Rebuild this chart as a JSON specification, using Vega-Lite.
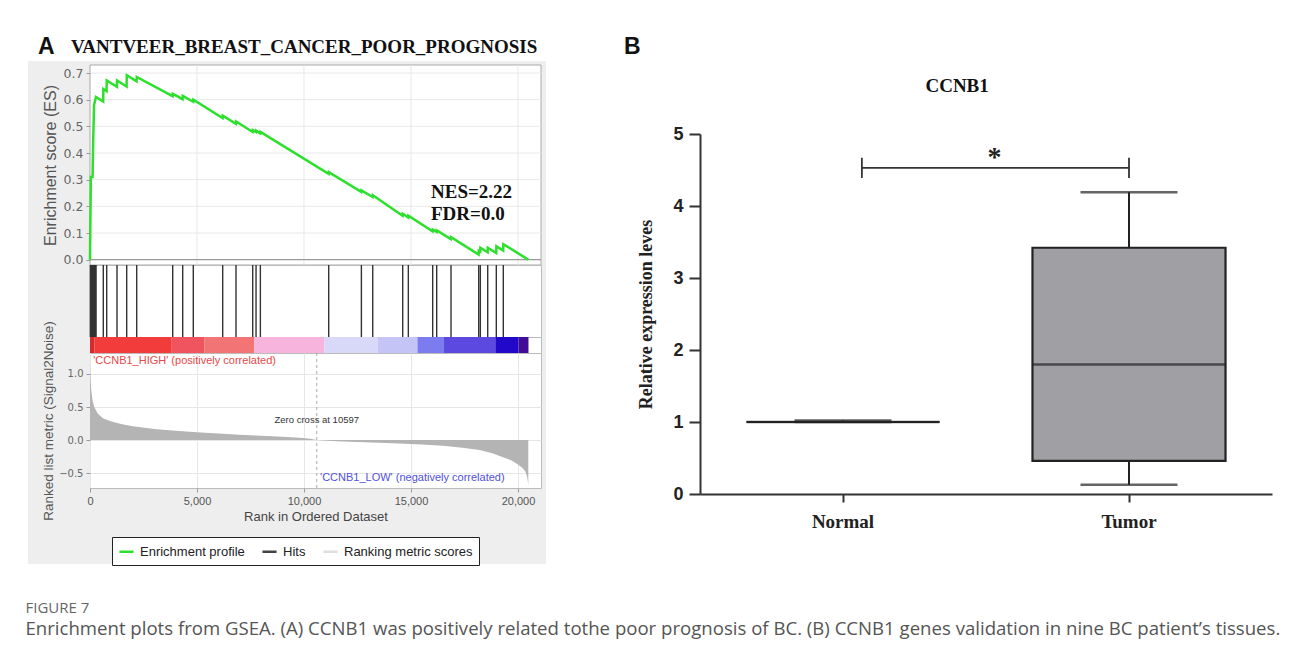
{
  "$schema": "https://vega.github.io/schema/vega-lite/v6.json",
  "background": "white",
  "padding": {"left": 25, "top": 35, "right": 8, "bottom": 8},
  "config": {
    "font": "Liberation Sans",
    "view": {"stroke": null},
    "axis": {"labelFont": "Liberation Sans", "titleFont": "Liberation Sans", "labelFlush": false, "labelOverlap": false}
  },
  "title": {
    "text": "FIGURE 7",
    "subtitle": "Enrichment plots from GSEA. (A) CCNB1 was positively related tothe poor prognosis of BC. (B) CCNB1 genes validation in nine BC patient’s tissues.",
    "orient": "bottom",
    "anchor": "start",
    "frame": "bounds",
    "dx": -2,
    "offset": 35,
    "font": "Open Sans",
    "fontSize": 15,
    "fontWeight": "normal",
    "color": "#666666",
    "subtitleFont": "Open Sans",
    "subtitleFontSize": 18.6,
    "subtitleColor": "#555555",
    "subtitlePadding": 4
  },
  "datasets": {
    "es": [
      {"rank": 0, "es": 0}, {"rank": 40, "es": 0.31}, {"rank": 120, "es": 0.31}, {"rank": 150, "es": 0.45},
      {"rank": 190, "es": 0.58}, {"rank": 280, "es": 0.61},
      {"rank": 616, "es": 0.593}, {"rank": 624, "es": 0.64},
      {"rank": 775, "es": 0.632}, {"rank": 783, "es": 0.672},
      {"rank": 1257, "es": 0.648}, {"rank": 1265, "es": 0.672},
      {"rank": 1710, "es": 0.649}, {"rank": 1718, "es": 0.692},
      {"rank": 2177, "es": 0.669}, {"rank": 2185, "es": 0.685},
      {"rank": 3860, "es": 0.613}, {"rank": 3868, "es": 0.622},
      {"rank": 4327, "es": 0.602}, {"rank": 4335, "es": 0.614},
      {"rank": 4822, "es": 0.592}, {"rank": 4830, "es": 0.6},
      {"rank": 6196, "es": 0.531}, {"rank": 6204, "es": 0.54},
      {"rank": 6818, "es": 0.509}, {"rank": 6826, "es": 0.518},
      {"rank": 7598, "es": 0.479}, {"rank": 7606, "es": 0.486},
      {"rank": 7754, "es": 0.479}, {"rank": 7762, "es": 0.484},
      {"rank": 7956, "es": 0.474}, {"rank": 7964, "es": 0.479},
      {"rank": 11150, "es": 0.322}, {"rank": 11158, "es": 0.328},
      {"rank": 12677, "es": 0.254}, {"rank": 12685, "es": 0.26},
      {"rank": 13207, "es": 0.235}, {"rank": 13215, "es": 0.242},
      {"rank": 14607, "es": 0.165}, {"rank": 14615, "es": 0.172},
      {"rank": 14870, "es": 0.158}, {"rank": 14878, "es": 0.165},
      {"rank": 16009, "es": 0.106}, {"rank": 16017, "es": 0.113},
      {"rank": 16196, "es": 0.104}, {"rank": 16204, "es": 0.11},
      {"rank": 16865, "es": 0.077}, {"rank": 16873, "es": 0.084},
      {"rank": 18160, "es": 0.019}, {"rank": 18168, "es": 0.033},
      {"rank": 18235, "es": 0.03}, {"rank": 18243, "es": 0.045},
      {"rank": 18580, "es": 0.028}, {"rank": 18588, "es": 0.045},
      {"rank": 18982, "es": 0.025}, {"rank": 18990, "es": 0.05},
      {"rank": 19308, "es": 0.034}, {"rank": 19316, "es": 0.058},
      {"rank": 20482, "es": 0.0}
    ],
    "hits": [
      {"rank": 15}, {"rank": 40}, {"rank": 60}, {"rank": 90}, {"rank": 120}, {"rank": 150}, {"rank": 175},
      {"rank": 200}, {"rank": 230}, {"rank": 260}, {"rank": 280}, {"rank": 621}, {"rank": 780},
      {"rank": 1262}, {"rank": 1715}, {"rank": 2182}, {"rank": 3865}, {"rank": 4332}, {"rank": 4827},
      {"rank": 6201}, {"rank": 6823}, {"rank": 7603}, {"rank": 7759}, {"rank": 7961}, {"rank": 11155},
      {"rank": 12682}, {"rank": 13212}, {"rank": 14612}, {"rank": 14875}, {"rank": 16014}, {"rank": 16201},
      {"rank": 16870}, {"rank": 18165}, {"rank": 18240}, {"rank": 18585}, {"rank": 18987}, {"rank": 19313}
    ],
    "segs": [
      {"seg": "s01", "start": 0, "end": 200},
      {"seg": "s02", "start": 200, "end": 3790},
      {"seg": "s03", "start": 3790, "end": 5340},
      {"seg": "s04", "start": 5340, "end": 7680},
      {"seg": "s05", "start": 7680, "end": 10950},
      {"seg": "s06", "start": 10950, "end": 13440},
      {"seg": "s07", "start": 13440, "end": 15300},
      {"seg": "s08", "start": 15300, "end": 16540},
      {"seg": "s09", "start": 16540, "end": 18940},
      {"seg": "s10", "start": 18940, "end": 20020},
      {"seg": "s11", "start": 20020, "end": 20490}
    ],
    "metric": [
      {"rank": 0, "m": 1.15}, {"rank": 20, "m": 0.95}, {"rank": 60, "m": 0.75}, {"rank": 120, "m": 0.6},
      {"rank": 200, "m": 0.5}, {"rank": 360, "m": 0.4}, {"rank": 600, "m": 0.33}, {"rank": 1000, "m": 0.28},
      {"rank": 1500, "m": 0.24}, {"rank": 2000, "m": 0.21}, {"rank": 3000, "m": 0.165}, {"rank": 4000, "m": 0.14},
      {"rank": 5000, "m": 0.118}, {"rank": 6000, "m": 0.098}, {"rank": 7000, "m": 0.08}, {"rank": 8000, "m": 0.064},
      {"rank": 9000, "m": 0.048}, {"rank": 9800, "m": 0.035}, {"rank": 10300, "m": 0.018}, {"rank": 10597, "m": 0},
      {"rank": 11500, "m": -0.018}, {"rank": 12500, "m": -0.032}, {"rank": 13500, "m": -0.043}, {"rank": 14400, "m": -0.053},
      {"rank": 15500, "m": -0.068}, {"rank": 16500, "m": -0.088}, {"rank": 17500, "m": -0.12}, {"rank": 18200, "m": -0.15},
      {"rank": 18800, "m": -0.2}, {"rank": 19300, "m": -0.26}, {"rank": 19700, "m": -0.31}, {"rank": 20000, "m": -0.37},
      {"rank": 20200, "m": -0.42}, {"rank": 20350, "m": -0.48}, {"rank": 20430, "m": -0.56}, {"rank": 20470, "m": -0.65},
      {"rank": 20482, "m": -0.68}
    ],
    "box": [
      {"group": "Normal", "min": 1.0, "q1": 1.0, "median": 1.0, "q3": 1.0, "max": 1.02},
      {"group": "Tumor", "min": 0.13, "q1": 0.46, "median": 1.8, "q3": 3.42, "max": 4.19}
    ]
  },
  "hconcat": [
    {
      "vconcat": [
        {
          "width": 451,
          "height": 200,
          "view": {"stroke": "#aaaaaa", "fill": "white"},
          "layer": [
            {
              "data": {"values": [{}]},
              "mark": {"type": "rect", "color": "#eeeeee"},
              "encoding": {"x": {"datum": -2897, "type": "quantitative"}, "x2": {"datum": 21309}, "y": {"datum": 0.745, "type": "quantitative"}, "y2": {"datum": -1.141}}
            },
            {
              "data": {"values": [{}]},
              "mark": {"type": "rect", "fill": "white", "stroke": "#aaaaaa", "strokeWidth": 1},
              "encoding": {"x": {"datum": 0, "type": "quantitative"}, "x2": {"datum": 21075}, "y": {"datum": -0.02, "type": "quantitative"}, "y2": {"datum": 0.73}}
            },
            {
              "data": {"values": [{"es": 0.1}, {"es": 0.2}, {"es": 0.3}, {"es": 0.4}, {"es": 0.5}, {"es": 0.6}, {"es": 0.7}]},
              "mark": {"type": "rule", "color": "#e8e8e8", "strokeWidth": 1},
              "encoding": {"y": {"field": "es", "type": "quantitative"}}
            },
            {
              "data": {"values": [{"rank": 5000}, {"rank": 10000}, {"rank": 15000}, {"rank": 20000}]},
              "mark": {"type": "rule", "color": "#e8e8e8", "strokeWidth": 1},
              "encoding": {"x": {"field": "rank", "type": "quantitative"}}
            },
            {
              "data": {"values": [{"es": 0}]},
              "mark": {"type": "rule", "color": "#999999", "strokeWidth": 1.2},
              "encoding": {"y": {"field": "es", "type": "quantitative"}}
            },
            {
              "data": {"name": "es"},
              "mark": {"type": "line", "strokeWidth": 2.5},
              "encoding": {
                "x": {"field": "rank", "type": "quantitative", "scale": {"domain": [0, 21075], "nice": false, "zero": false},
                      "axis": {"values": [5000, 10000, 15000, 20000], "tickCount": 10, "labels": false, "ticks": false, "domain": false, "title": null, "grid": false, "zindex": 1}},
                "y": {"field": "es", "type": "quantitative", "scale": {"domain": [-0.02, 0.73], "nice": false, "zero": false},
                      "axis": {"values": [0, 0.1, 0.2, 0.3, 0.4, 0.5, 0.6, 0.7], "tickCount": 10, "format": ".1f", "title": "Enrichment score (ES)",
                               "labelOverlap": false, "zindex": 1, "grid": false,
                               "titleFontSize": 16, "titleFontWeight": "normal", "titleColor": "#555555", "titlePadding": 5,
                               "labelFont": "DejaVu Sans", "labelFontSize": 12.5, "labelColor": "#666666", "labelPadding": 3,
                               "tickSize": 4, "tickColor": "#999999", "domain": false}},
                "color": {"datum": "Enrichment profile", "type": "nominal",
                          "scale": {"domain": ["Enrichment profile", "Hits", "Ranking metric scores"], "range": ["#2ee02e", "#444444", "#dedede"]},
                          "legend": {"title": null, "orient": "none", "legendX": 22, "legendY": 472, "direction": "horizontal",
                                     "symbolType": "stroke", "symbolStrokeWidth": 2.5, "symbolSize": 200,
                                     "labelFont": "Liberation Sans", "labelFontSize": 13, "labelColor": "#222222", "labelOffset": 5,
                                     "fillColor": "white", "strokeColor": "#222222", "padding": 6, "columnPadding": 12}}
              }
            },
            {
              "data": {"values": [{"rank": -2430, "es": 0.7975}]},
              "mark": {"type": "text", "text": "A", "font": "Liberation Sans", "fontSize": 23, "fontWeight": "bold", "align": "left", "baseline": "middle", "color": "#111111"},
              "encoding": {"x": {"field": "rank", "type": "quantitative"}, "y": {"field": "es", "type": "quantitative"}}
            },
            {
              "data": {"values": [{"rank": -888, "es": 0.7975}]},
              "mark": {"type": "text", "text": "VANTVEER_BREAST_CANCER_POOR_PROGNOSIS", "font": "Liberation Serif", "fontSize": 19, "fontWeight": "bold", "align": "left", "baseline": "middle", "color": "#111111"},
              "encoding": {"x": {"field": "rank", "type": "quantitative"}, "y": {"field": "es", "type": "quantitative"}}
            },
            {
              "data": {"values": [{"rank": 15935, "es": 0.254}]},
              "mark": {"type": "text", "text": "NES=2.22", "font": "Liberation Serif", "fontSize": 19, "fontWeight": "bold", "align": "left", "baseline": "middle", "color": "#111111"},
              "encoding": {"x": {"field": "rank", "type": "quantitative"}, "y": {"field": "es", "type": "quantitative"}}
            },
            {
              "data": {"values": [{"rank": 15935, "es": 0.171}]},
              "mark": {"type": "text", "text": "FDR=0.0", "font": "Liberation Serif", "fontSize": 19, "fontWeight": "bold", "align": "left", "baseline": "middle", "color": "#111111"},
              "encoding": {"x": {"field": "rank", "type": "quantitative"}, "y": {"field": "es", "type": "quantitative"}}
            }
          ]
        },
        {
          "width": 451,
          "height": 72,
          "view": {"stroke": "#bbbbbb", "fill": "white"},
          "data": {"name": "hits"},
          "mark": {"type": "rule", "color": "#333333", "strokeWidth": 1.4},
          "encoding": {
            "x": {"field": "rank", "type": "quantitative", "scale": {"domain": [0, 21075], "nice": false, "zero": false}, "axis": null}
          }
        },
        {
          "width": 451,
          "height": 16,
          "view": {"stroke": "#bbbbbb", "fill": "white"},
          "data": {"name": "segs"},
          "mark": {"type": "rect"},
          "encoding": {
            "x": {"field": "start", "type": "quantitative", "scale": {"domain": [0, 21075], "nice": false, "zero": false}, "axis": null},
            "x2": {"field": "end"},
            "fill": {"field": "seg", "type": "nominal",
                     "scale": {"domain": ["s01", "s02", "s03", "s04", "s05", "s06", "s07", "s08", "s09", "s10", "s11"],
                               "range": ["#d42c2c", "#f23c3c", "#f0545e", "#f27474", "#f7b4dc", "#d8d8f8", "#c4c4f6", "#7c7cf0", "#5c4ae0", "#2208c8", "#400c98"]},
                     "legend": null}
          }
        },
        {
          "width": 451,
          "height": 135,
          "view": {"stroke": "#bbbbbb", "fill": "white"},
          "layer": [
            {
              "data": {"name": "metric"},
              "mark": {"type": "area", "color": "#b4b4b4"},
              "encoding": {
                "x": {"field": "rank", "type": "quantitative", "scale": {"domain": [0, 21075], "nice": false, "zero": false},
                      "axis": {"values": [0, 5000, 10000, 15000, 20000], "tickCount": 10, "format": ",.0f", "title": "Rank in Ordered Dataset",
                               "titleFontSize": 13, "titleFontWeight": "normal", "titleColor": "#444444", "titlePadding": 4,
                               "labelFontSize": 11, "labelColor": "#555555", "labelPadding": 3, "tickSize": 4, "tickColor": "#999999",
                               "domain": false, "grid": true, "gridColor": "#e6e6e6"}},
                "y": {"field": "m", "type": "quantitative", "scale": {"domain": [-0.727, 1.318], "nice": false, "zero": false},
                      "axis": {"values": [-0.5, 0, 0.5, 1.0], "tickCount": 10, "format": ".1f", "title": "Ranked list metric (Signal2Noise)",
                               "titleFontSize": 13.5, "titleFontWeight": "normal", "titleColor": "#555555", "titlePadding": 3,
                               "labelFont": "DejaVu Sans", "labelFontSize": 10, "labelColor": "#666666", "labelPadding": 3,
                               "tickSize": 4, "tickColor": "#999999", "domain": false, "grid": true, "gridColor": "#e6e6e6"}},
                "y2": {"datum": 0}
              }
            },
            {
              "data": {"values": [{"rank": 10597}]},
              "mark": {"type": "rule", "color": "#aaaaaa", "strokeDash": [3, 3], "strokeWidth": 1},
              "encoding": {"x": {"field": "rank", "type": "quantitative"}}
            },
            {
              "data": {"values": [{"rank": 150, "m": 1.2}]},
              "mark": {"type": "text", "text": "'CCNB1_HIGH' (positively correlated)", "fontSize": 11, "color": "#e84848", "align": "left", "baseline": "middle"},
              "encoding": {"x": {"field": "rank", "type": "quantitative"}, "y": {"field": "m", "type": "quantitative"}}
            },
            {
              "data": {"values": [{"rank": 10597, "m": 0.30}]},
              "mark": {"type": "text", "text": "Zero cross at 10597", "fontSize": 9.5, "color": "#333333", "align": "center", "baseline": "middle"},
              "encoding": {"x": {"field": "rank", "type": "quantitative"}, "y": {"field": "m", "type": "quantitative"}}
            },
            {
              "data": {"values": [{"rank": 10750, "m": -0.575}]},
              "mark": {"type": "text", "text": "'CCNB1_LOW' (negatively correlated)", "fontSize": 11, "color": "#5050e0", "align": "left", "baseline": "middle"},
              "encoding": {"x": {"field": "rank", "type": "quantitative"}, "y": {"field": "m", "type": "quantitative"}}
            }
          ]
        }
      ],
      "spacing": 0,
      "bounds": "flush",
      "resolve": {"scale": {"x": "independent", "y": "independent", "color": "independent", "fill": "independent"}, "legend": {"color": "independent"}}
    },
    {
      "vconcat": [
        {
          "data": {"values": [{}]},
          "mark": {"type": "point", "opacity": 0},
          "encoding": {},
          "width": 572,
          "height": 69
        },
        {
          "width": 572,
          "height": 360,
          "layer": [
            {
              "data": {"name": "box"},
              "mark": {"type": "rule", "color": "#222222", "strokeWidth": 2},
              "encoding": {
                "x": {"field": "group", "type": "nominal", "scale": {"domain": ["Normal", "Tumor"], "paddingInner": 0, "paddingOuter": 0},
                      "axis": {"title": null, "labelAngle": 0, "labelFont": "Liberation Serif", "labelFontSize": 19, "labelFontWeight": "bold", "labelColor": "#222222",
                               "tickSize": 8, "tickWidth": 2, "tickColor": "#333333", "domainWidth": 2, "domainColor": "#333333", "labelPadding": 10}},
                "y": {"field": "q3", "type": "quantitative", "scale": {"domain": [0, 5], "nice": false},
                      "axis": {"values": [0, 1, 2, 3, 4, 5], "tickCount": 10, "format": "d", "title": "Relative expression leves", "titleFont": "Liberation Serif", "titleFontSize": 18,
                               "titleFontWeight": "bold", "titleColor": "#222222", "titlePadding": 17,
                               "labelFont": "Liberation Sans", "labelFontSize": 18, "labelFontWeight": "bold", "labelColor": "#222222", "labelPadding": 6,
                               "tickSize": 11, "tickWidth": 2, "tickColor": "#333333", "domainWidth": 2, "domainColor": "#333333", "grid": false}},
                "y2": {"field": "max"}
              }
            },
            {
              "data": {"name": "box"},
              "mark": {"type": "rule", "color": "#222222", "strokeWidth": 2},
              "encoding": {"x": {"field": "group", "type": "nominal"}, "y": {"field": "min", "type": "quantitative"}, "y2": {"field": "q1"}}
            },
            {
              "data": {"name": "box"},
              "mark": {"type": "bar", "width": {"band": 0.675}, "fill": "#a0a0a4", "stroke": "#222222", "strokeWidth": 2.2},
              "encoding": {"x": {"field": "group", "type": "nominal"}, "y": {"field": "q1", "type": "quantitative"}, "y2": {"field": "q3"}}
            },
            {
              "data": {"name": "box"},
              "mark": {"type": "tick", "size": 193, "thickness": 2.5, "color": "#222222"},
              "encoding": {"x": {"field": "group", "type": "nominal"}, "y": {"field": "median", "type": "quantitative"}}
            },
            {
              "data": {"name": "box"},
              "mark": {"type": "tick", "size": 97, "thickness": 2.5, "color": "#222222"},
              "encoding": {"x": {"field": "group", "type": "nominal"}, "y": {"field": "max", "type": "quantitative"}}
            },
            {
              "data": {"name": "box"},
              "mark": {"type": "tick", "size": 97, "thickness": 2.5, "color": "#222222"},
              "encoding": {"x": {"field": "group", "type": "nominal"}, "y": {"field": "min", "type": "quantitative"}}
            },
            {
              "data": {"values": [{}]},
              "mark": {"type": "rule", "color": "#333333", "strokeWidth": 1.8},
              "encoding": {"x": {"datum": "Normal", "type": "nominal", "bandPosition": 0.566}, "x2": {"datum": "Tumor"}, "y": {"datum": 4.53, "type": "quantitative"}}
            },
            {
              "data": {"values": [{}]},
              "mark": {"type": "rule", "color": "#333333", "strokeWidth": 1.8},
              "encoding": {"x": {"datum": "Normal", "type": "nominal", "bandPosition": 0.566}, "y": {"datum": 4.39, "type": "quantitative"}, "y2": {"datum": 4.67}}
            },
            {
              "data": {"values": [{}]},
              "mark": {"type": "rule", "color": "#333333", "strokeWidth": 1.8},
              "encoding": {"x": {"datum": "Tumor", "type": "nominal"}, "y": {"datum": 4.39, "type": "quantitative"}, "y2": {"datum": 4.67}}
            },
            {
              "data": {"values": [{}]},
              "mark": {"type": "text", "text": "*", "font": "Liberation Serif", "fontSize": 28, "fontWeight": "bold", "align": "center", "baseline": "alphabetic", "color": "#222222"},
              "encoding": {"x": {"datum": "Tumor", "type": "nominal", "bandPosition": 0.03}, "y": {"datum": 4.55, "type": "quantitative"}}
            },
            {
              "data": {"values": [{}]},
              "mark": {"type": "text", "text": "CCNB1", "font": "Liberation Serif", "fontSize": 19, "fontWeight": "bold", "align": "center", "baseline": "middle", "color": "#111111"},
              "encoding": {"x": {"datum": "Normal", "type": "nominal", "bandPosition": 0.899}, "y": {"datum": 5.667, "type": "quantitative"}}
            },
            {
              "data": {"values": [{}]},
              "mark": {"type": "text", "text": "B", "font": "Liberation Sans", "fontSize": 23, "fontWeight": "bold", "align": "left", "baseline": "middle", "color": "#111111"},
              "encoding": {"x": {"datum": "Normal", "type": "nominal", "bandPosition": -0.266}, "y": {"datum": 6.208, "type": "quantitative"}}
            }
          ]
        }
      ],
      "spacing": 0,
      "bounds": "flush"
    }
  ],
  "spacing": 76,
  "resolve": {"scale": {"x": "independent", "y": "independent", "color": "independent", "fill": "independent"}}
}
